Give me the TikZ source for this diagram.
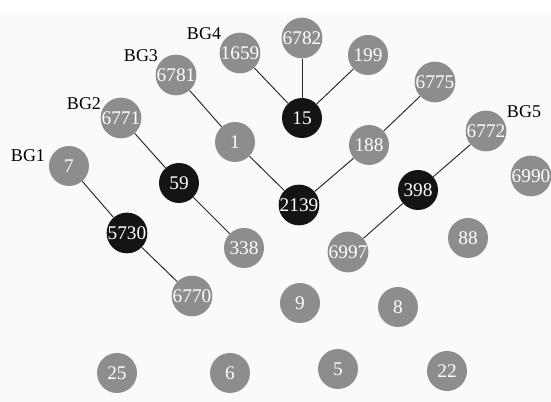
\documentclass[tikz,border=0pt]{standalone}
\usepackage{fontspec}
\setmainfont{Liberation Serif}
\definecolor{nodegray}{HTML}{8D8D8D}
\definecolor{bgfill}{HTML}{FAFAFA}
\begin{document}
\begin{tikzpicture}[x=0.75pt,y=-0.75pt,
  gnode/.style={circle,fill=nodegray,draw=none,minimum size=30pt,inner sep=0pt,text=white,font=\fontsize{14.5}{15}\selectfont},
  bnode/.style={gnode,fill=black!92},
  bglabel/.style={font=\fontsize{13.5}{14}\selectfont,text=black,inner sep=0pt},
  edge/.style={draw=black!85,line width=0.7pt}]
\useasboundingbox (0,0) rectangle (551,402);
\clip (0,0) rectangle (551,402);
\fill[white] (0,0) rectangle (551,402);
\fill[bgfill] (0,12) rectangle (551,402);
% nodes
\node[gnode] (n7) at (69,166) {7};
\node[bnode] (n5730) at (127,233) {5730};
\node[gnode] (n6770) at (192,296) {6770};
\node[gnode] (n6771) at (121,118) {6771};
\node[bnode] (n59) at (179,183) {59};
\node[gnode] (n338) at (244,248) {338};
\node[gnode] (n6781) at (176,75) {6781};
\node[gnode] (n1) at (235,142) {1};
\node[bnode] (n2139) at (299,205) {2139};
\node[gnode] (n188) at (369,145) {188};
\node[gnode] (n6775) at (435,82) {6775};
\node[gnode] (n1659) at (240,53) {1659};
\node[gnode] (n6782) at (302,38) {6782};
\node[gnode] (n199) at (368,55) {199};
\node[bnode] (n15) at (302,118) {15};
\node[gnode] (n6772) at (486,131) {6772};
\node[bnode] (n398) at (418,190) {398};
\node[gnode] (n6997) at (348,252) {6997};
\node[gnode] (n6990) at (531,176) {6990};
\node[gnode] (n88) at (468,238) {88};
\node[gnode] (n9) at (300,303) {9};
\node[gnode] (n8) at (398,307) {8};
\node[gnode] (n25) at (117,373) {25};
\node[gnode] (n6) at (230,373) {6};
\node[gnode] (n5) at (338,369) {5};
\node[gnode] (n22) at (447,371) {22};
% labels
\node[bglabel] (bg1) at (28,156) {BG1};
\node[bglabel] (bg2) at (84,104) {BG2};
\node[bglabel] (bg3) at (141,56) {BG3};
\node[bglabel] (bg4) at (204,34) {BG4};
\node[bglabel] (bg5) at (524,112) {BG5};
% edges
\draw[edge] (n7) -- (n5730);
\draw[edge] (n5730) -- (n6770);
\draw[edge] (n6771) -- (n59);
\draw[edge] (n59) -- (n338);
\draw[edge] (n6781) -- (n1);
\draw[edge] (n1) -- (n2139);
\draw[edge] (n2139) -- (n188);
\draw[edge] (n188) -- (n6775);
\draw[edge] (n1659) -- (n15);
\draw[edge] (n6782) -- (n15);
\draw[edge] (n199) -- (n15);
\draw[edge] (n6772) -- (n398);
\draw[edge] (n398) -- (n6997);
\end{tikzpicture}
\end{document}
